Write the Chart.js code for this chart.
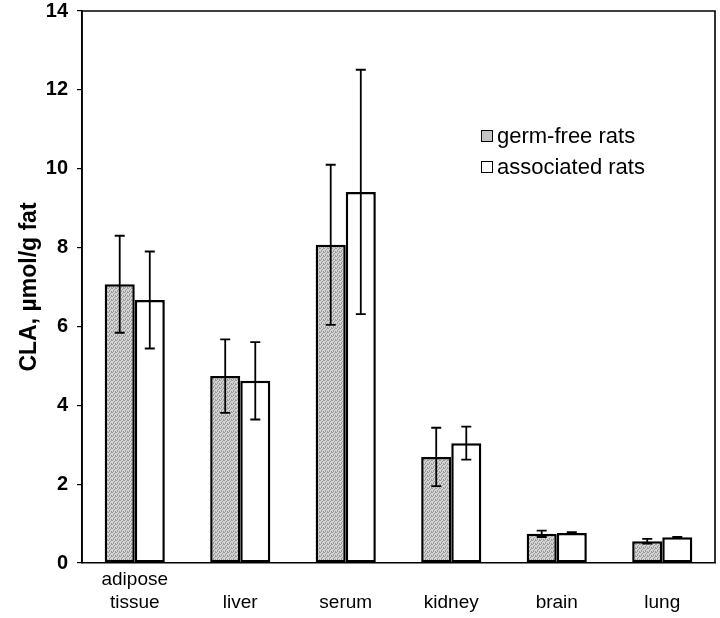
<!DOCTYPE html>
<html><head><meta charset="utf-8">
<script src="https://cdn.jsdelivr.net/npm/chart.js@4.4.1/dist/chart.umd.min.js"></script>
<style>
html,body{margin:0;padding:0;background:#fff;}
#wrap{position:relative;width:720px;height:618px;}
#legend{position:absolute;left:481px;top:120px;font-family:"Liberation Sans",Arial,sans-serif;font-size:22px;color:#000;line-height:31px;}
#legend .it{display:flex;align-items:center;}
#legend .bx{width:10px;height:10px;border:1.5px solid #000;margin-right:4px;}
</style></head>
<body>
<div id="wrap"><canvas id="c" width="720" height="618"></canvas>
<div id="legend"></div></div>
<script>
const categories = [["adipose","tissue"],"liver","serum","kidney","brain","lung"];
const seriesNames = ["germ-free rats","associated rats"];
const germFree = [7.07, 4.74, 8.07, 2.69, 0.74, 0.55];
const germFreeSD = [1.23, 0.93, 2.03, 0.74, 0.08, 0.06];
const associated = [6.67, 4.62, 9.41, 3.04, 0.76, 0.65];
const associatedSD = [1.23, 0.98, 3.10, 0.42, 0.02, 0.01];
const yTicks = [0,2,4,6,8,10,12,14];

// stipple pattern for germ-free bars
const pc = document.createElement('canvas'); pc.width = 4; pc.height = 4;
const px = pc.getContext('2d');
px.fillStyle = '#d4d4d4'; px.fillRect(0,0,4,4);
px.fillStyle = '#9a9a9a';
[[0,0],[2,1],[1,2],[3,3],[3,0],[1,3]].forEach(p=>px.fillRect(p[0],p[1],1,1));
const ctx = document.getElementById('c').getContext('2d');
const stipple = ctx.createPattern(pc,'repeat');

const fills = [stipple, '#ffffff'];
const legendFills = ['#c4c4c4','#ffffff'];
document.getElementById('legend').innerHTML = seriesNames.map((n,i)=>
  `<div class="it"><span class="bx" style="background:${legendFills[i]}"></span>${n}</div>`).join('');

const errs = [germFreeSD, associatedSD];
const errorBars = {
  id:'errorBars',
  afterDatasetsDraw(chart){
    const c = chart.ctx, ys = chart.scales.y;
    c.save(); c.strokeStyle='#000'; c.lineWidth=1.8;
    chart.data.datasets.forEach((ds,di)=>{
      const meta = chart.getDatasetMeta(di);
      meta.data.forEach((bar,i)=>{
        const v = ds.data[i], e = errs[di][i];
        const yt = ys.getPixelForValue(v+e), yb = ys.getPixelForValue(v-e);
        c.beginPath();
        c.moveTo(bar.x,yt); c.lineTo(bar.x,yb);
        c.moveTo(bar.x-5,yt); c.lineTo(bar.x+5,yt);
        c.moveTo(bar.x-5,yb); c.lineTo(bar.x+5,yb);
        c.stroke();
      });
    });
    c.restore();
  }
};
const frame = {
  id:'frame',
  afterDraw(chart){
    const a = chart.chartArea, c = chart.ctx;
    c.save(); c.strokeStyle='#000'; c.lineWidth=1.6;
    c.beginPath();
    c.moveTo(a.left,a.bottom); c.lineTo(a.left,a.top); c.lineTo(a.right,a.top); c.lineTo(a.right,a.bottom);
    c.stroke(); c.restore();
  }
};

new Chart(ctx,{
  type:'bar',
  data:{
    labels:categories,
    datasets:[germFree,associated].map((d,i)=>({
      label:seriesNames[i], data:d, backgroundColor:fills[i],
      borderColor:'#000', borderWidth:2.5, borderSkipped:false,
      categoryPercentage:0.57, barPercentage:1.0
    }))
  },
  options:{
    responsive:false, animation:false,
    layout:{padding:{left:0,right:5,top:11,bottom:0}},
    plugins:{legend:{display:false},tooltip:{enabled:false}},
    scales:{
      x:{
        grid:{display:false},
        border:{color:'#000',width:1.6},
        ticks:{color:'#000',font:{family:'"Liberation Sans", Arial, sans-serif',size:19},crossAlign:'far',padding:9,maxRotation:0,autoSkip:false},
        afterFit(s){ s.height = 618-563; s.paddingLeft = 0; s.paddingRight = 0; }
      },
      y:{
        min:0,max:14,
        afterBuildTicks(s){ s.ticks = yTicks.map(v=>({value:v})); },
        grid:{drawOnChartArea:false,color:'#000',tickLength:5,lineWidth:1.2},
        border:{color:'#000',width:1.6},
        ticks:{color:'#000',padding:9,font:{family:'"Liberation Sans", Arial, sans-serif',size:20,weight:'bold'}},
        title:{display:true,text:'CLA, µmol/g fat',color:'#000',padding:{top:16,bottom:0},font:{family:'"Liberation Sans", Arial, sans-serif',size:23,weight:'bold'}},
        afterFit(s){ s.width = 82; s.paddingTop = 0; s.paddingBottom = 0; }
      }
    }
  },
  plugins:[errorBars,frame]
});
</script>
</body></html>
